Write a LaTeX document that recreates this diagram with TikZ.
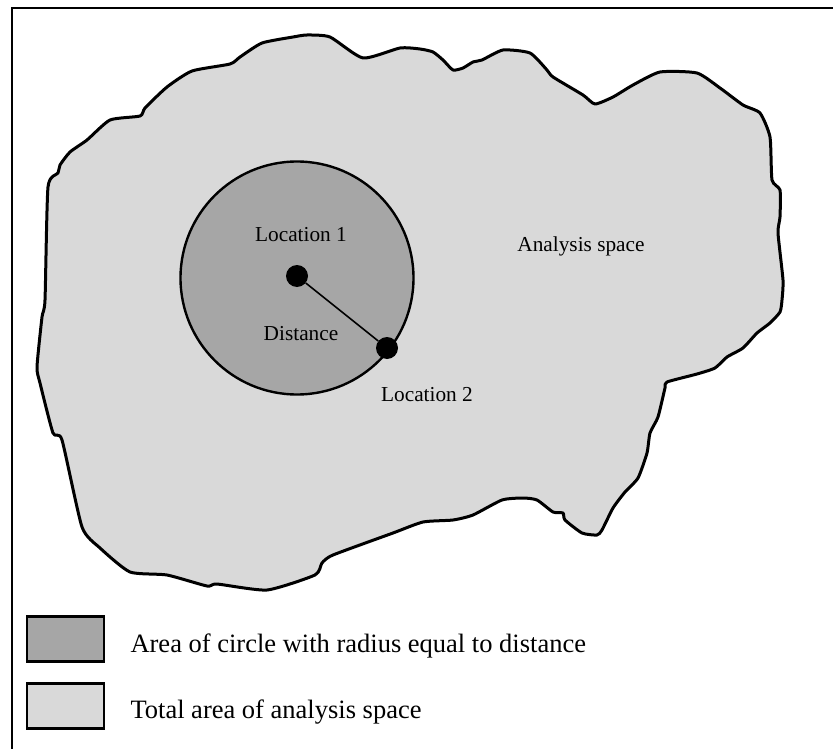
\documentclass[tikz,border=0pt]{standalone}
\usepackage{fontspec}
\usepackage{xcolor}
\setmainfont{Liberation Serif}
\definecolor{spacegray}{HTML}{D9D9D9}
\definecolor{circlegray}{HTML}{A6A6A6}

\begin{document}
\begin{tikzpicture}[x=1pt, y=-1pt,
  label/.style={font=\fontsize{21.3}{25}\selectfont, anchor=base},
  keytext/.style={font=\fontsize{26.5}{30}\selectfont, anchor=base west},
  keybox/.style={draw, line width=2.4pt, minimum width=77pt, minimum height=45pt, inner sep=0pt},
  dot/.style={circle, fill=black, minimum size=22pt, inner sep=0pt}]
\useasboundingbox (0,0) rectangle (833,749);
% Frame around the figure
\draw[line width=2.2pt] (12,749) -- (12,8) -- (833,8);
% Outline of the analysis space
\draw[line width=3pt, line join=round, fill=spacegray] plot[smooth cycle, tension=0.35] coordinates {
  (48,187) (58,173) (60,165) (70,152) (87,140) (110,120) (140,116) (145,108)
  (167,87) (192,71) (230,64) (240,57) (262,43) (293,37) (307,35) (330,37)
  (363,58) (400,48) (420,49) (433,52) (443,60) (453,70) (463,68) (473,62)
  (482,60) (503,50) (530,53) (547,70) (553,77) (583,95) (595,104) (613,97)
  (633,85) (660,72) (697,73) (720,88) (743,105) (760,113) (770,137) (772,180)
  (780,190) (780,217) (778,233) (783,280) (782,300) (780,312) (770,323) (757,333)
  (743,348) (727,357) (715,368) (697,374) (667,382) (665,388) (658,417) (650,433)
  (647,453) (638,478) (625,492) (613,508) (602,530) (597,535) (582,533) (565,520)
  (563,513) (553,512) (537,500) (523,498) (502,500) (473,515) (453,520) (423,522)
  (393,533) (333,555) (322,563) (315,575) (267,590) (217,584) (207,586) (167,575)
  (130,572) (100,548) (82,527) (62,440) (53,433) (40,383) (37,367) (42,317) (45,300)};
% Circle round location 1
\draw[line width=2.4pt, fill=circlegray] (297,278) circle (116.5);
% Locations and the distance between them
\node[dot] (loc1) at (297,276) {};
\node[dot] (loc2) at (387,348) {};
\draw[line width=1.6pt] (loc1) -- (loc2);
\node[label] (loc1txt) at (301,241) {Location 1};
\node[label] (disttxt) at (301,340) {Distance};
\node[label] (loc2txt) at (427,401) {Location 2};
\node[label] (spacetxt) at (581,251) {Analysis space};
% Legend
\node[keybox, fill=circlegray] (keycircle) at (65.5,639) {};
\node[keybox, fill=spacegray] (keyspace) at (65.5,706) {};
\node[keytext] (keycircletxt) at (127,652) {Area of circle with radius equal to distance};
\node[keytext] (keyspacetxt) at (127,718) {Total area of analysis space};
\end{tikzpicture}
\end{document}
